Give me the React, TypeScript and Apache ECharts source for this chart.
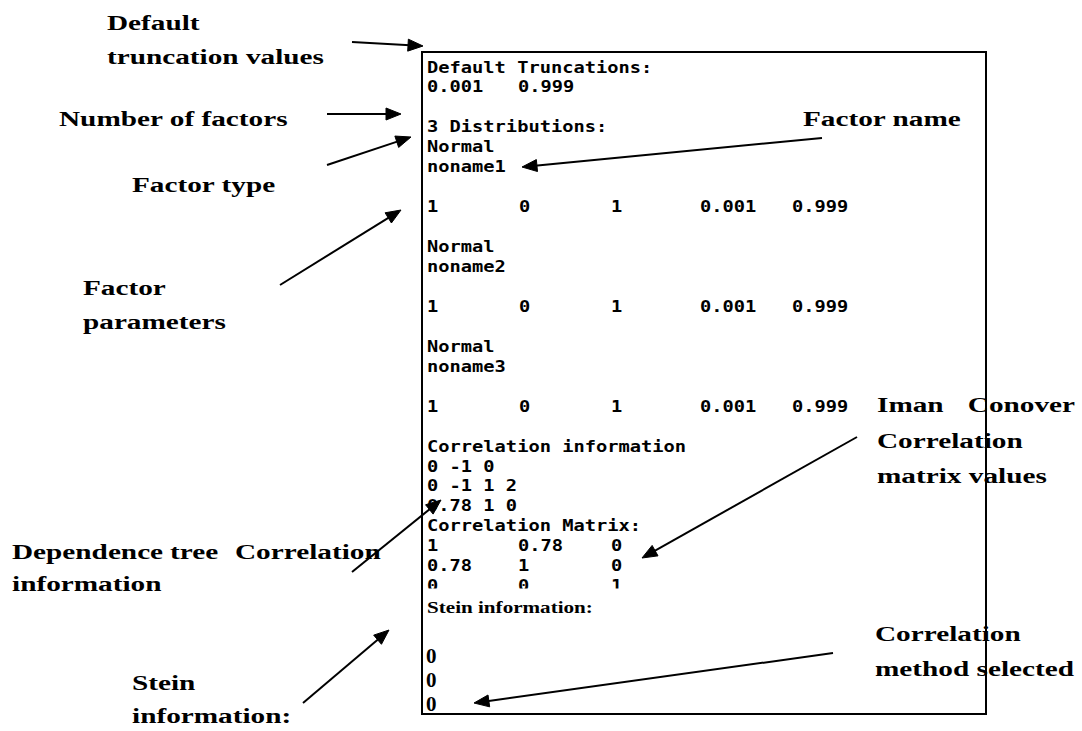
import React, { useEffect, useRef } from "react";
import * as echarts from "echarts";

// ---- content of the annotated file ----
const headerTitle = "Default Truncations:";
const truncations = ["0.001", "0.999"];
const distributionsTitle = "3 Distributions:";
const distTypes = ["Normal", "Normal", "Normal"];
const distNames = ["noname1", "noname2", "noname3"];
const distParams = [
  ["1", "0", "1", "0.001", "0.999"],
  ["1", "0", "1", "0.001", "0.999"],
  ["1", "0", "1", "0.001", "0.999"],
];
const corrInfoTitle = "Correlation information";
const corrInfo = ["0 -1 0", "0 -1 1 2", "0.78 1 0"];
const corrMatrixTitle = "Correlation Matrix:";
const corrMatrix = [
  ["1", "0.78", "0"],
  ["0.78", "1", "0"],
  ["0", "0", "1"],
];
const steinTitle = "Stein information:";
const steinValues = ["0", "0", "0"];

// ---- annotation labels ----
const labelLines = [
  ["Default"],
  ["truncation values"],
  ["Number of factors"],
  ["Factor type"],
  ["Factor"],
  ["parameters"],
  ["Factor name"],
  ["Iman", "Conover"],
  ["Correlation"],
  ["matrix values"],
  ["Dependence", "tree", "Correlation"],
  ["information"],
  ["Stein"],
  ["information:"],
  ["Correlation"],
  ["method selected"],
];

// layout (pixel positions)
const labelPos: number[][] = [
  [107, 23],
  [107, 57],
  [59, 119],
  [132, 185],
  [83, 288],
  [83, 322],
  [803, 119],
  [877, 405],
  [877, 441],
  [877, 476],
  [12, 552],
  [12, 584],
  [132, 683],
  [132, 716],
  [875, 634],
  [875, 669],
];
const arrowPos: number[][] = [
  [352, 42, 423, 46],
  [327, 114, 401, 114],
  [327, 165, 411, 137],
  [280, 285, 401, 210],
  [822, 138, 522, 167],
  [857, 437, 642, 558],
  [352, 572, 441, 500],
  [303, 703, 389, 630],
  [833, 653, 474, 703],
];

const MONO = "DejaVu Sans Mono";
const SERIF = "Liberation Serif";
const MONO_SIZE = 16;
const MONO_SX = 1.17;
const SERIF_SIZE = 22;
const SERIF_SX = 1.33;

function monoText(text: string, x: number, y: number) {
  return {
    type: "text",
    x,
    y,
    scaleX: MONO_SX,
    style: {
      text,
      fill: "#000",
      fontFamily: MONO,
      fontWeight: "bold",
      fontSize: MONO_SIZE,
      textAlign: "left",
      textVerticalAlign: "middle",
    },
  };
}

function serifText(text: string, x: number, y: number, size = SERIF_SIZE, align = "left", sx = SERIF_SX) {
  return {
    type: "text",
    x,
    y,
    scaleX: sx,
    style: {
      text,
      fill: "#000",
      fontFamily: SERIF,
      fontWeight: "bold",
      fontSize: size,
      textAlign: align,
      textVerticalAlign: "middle",
    },
  };
}

function arrow(x1: number, y1: number, x2: number, y2: number) {
  const dx = x2 - x1;
  const dy = y2 - y1;
  const len = Math.sqrt(dx * dx + dy * dy);
  const ux = dx / len;
  const uy = dy / len;
  const L = 15;
  const W = 6;
  const bx = x2 - ux * L;
  const by = y2 - uy * L;
  return [
    {
      type: "line",
      shape: { x1, y1, x2: bx + ux * 2, y2: by + uy * 2 },
      style: { stroke: "#000", lineWidth: 2 },
    },
    {
      type: "polygon",
      shape: {
        points: [
          [x2, y2],
          [bx - uy * W, by + ux * W],
          [bx + uy * W, by - ux * W],
        ],
      },
      style: { fill: "#000", stroke: "#000", lineWidth: 1 },
    },
  ];
}

export default function App() {
  const ref = useRef<HTMLDivElement>(null);
  useEffect(() => {
    if (!ref.current) return;
    const chart = echarts.init(ref.current, null, { renderer: "svg" });
    const els: any[] = [];

    // frame of the file window
    els.push({
      type: "rect",
      shape: { x: 422, y: 52, width: 564, height: 662 },
      style: { fill: "#fff", stroke: "#000", lineWidth: 2 },
    });

    const x0 = 427;
    const lineY = (i: number) => 67 + i * 19.95;
    const paramCols = [427, 519, 611, 700, 792];
    const matCols = [427, 518, 611];

    els.push(monoText(headerTitle, x0, lineY(0)));
    truncations.forEach((t, k) => els.push(monoText(t, matCols[k], lineY(1))));
    els.push(monoText(distributionsTitle, x0, lineY(3)));
    distTypes.forEach((t, d) => {
      const base = 4 + d * 5;
      els.push(monoText(t, x0, lineY(base)));
      els.push(monoText(distNames[d], x0, lineY(base + 1)));
      distParams[d].forEach((p, k) => els.push(monoText(p, paramCols[k], lineY(base + 3))));
    });
    els.push(monoText(corrInfoTitle, x0, lineY(19)));
    corrInfo.forEach((c, k) => els.push(monoText(c, x0, lineY(20 + k))));
    els.push(monoText(corrMatrixTitle, x0, lineY(23)));
    corrMatrix.forEach((row, r) =>
      row.forEach((v, k) => els.push(monoText(v, matCols[k], lineY(24 + r))))
    );
    // the last matrix row is cut off in the original window
    els.push({
      type: "rect",
      shape: { x: 424, y: 588.5, width: 400, height: 9 },
      style: { fill: "#fff" },
    });

    els.push(serifText(steinTitle, 427, 607, 16, "left", 1.32));
    steinValues.forEach((v, k) => els.push(serifText(v, 426, 656 + k * 24, 21, "left", 1.0)));

    // annotation labels
    labelLines.forEach((words, i) => {
      const [lx, ly] = labelPos[i];
      if (words.length === 1) {
        els.push(serifText(words[0], lx, ly));
      } else if (words.length === 2) {
        els.push(serifText(words[0], lx, ly));
        els.push(serifText(words[1], 1075, ly, SERIF_SIZE, "right"));
      } else {
        const xs = [lx, 170, 235];
        words.forEach((w, k) => els.push(serifText(w, xs[k], ly)));
      }
    });

    arrowPos.forEach((a) => els.push(...arrow(a[0], a[1], a[2], a[3])));

    chart.setOption({
      animation: false,
      backgroundColor: "#fff",
      graphic: { elements: els },
    });
    return () => chart.dispose();
  }, []);
  return (
    <div
      ref={ref}
      style={{ position: "absolute", left: 0, top: 0, width: 1082, height: 731 }}
    />
  );
}
